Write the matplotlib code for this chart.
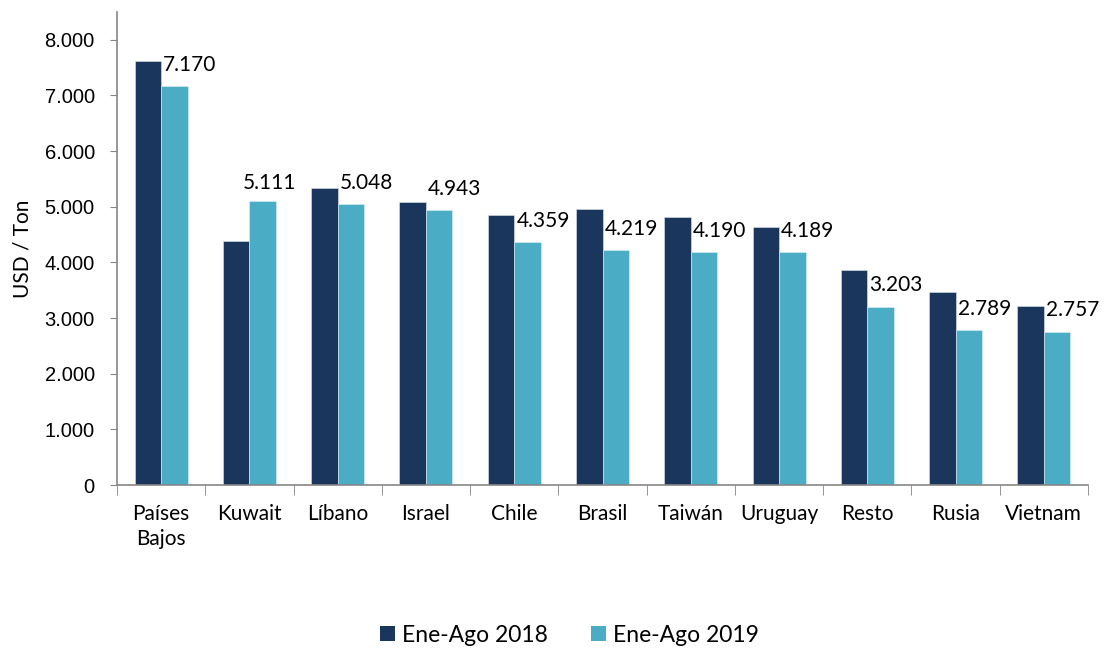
import matplotlib
matplotlib.use("Agg")
import matplotlib.pyplot as plt
import numpy as np
from matplotlib.patches import Patch

categories = ["Países\nBajos", "Kuwait", "Líbano", "Israel", "Chile", "Brasil",
              "Taiwán", "Uruguay", "Resto", "Rusia", "Vietnam"]
values_2018 = [7620, 4380, 5340, 5080, 4860, 4960, 4820, 4630, 3860, 3470, 3220]
values_2019 = [7170, 5111, 5048, 4943, 4359, 4219, 4190, 4189, 3203, 2789, 2757]
labels_2019 = ["7.170", "5.111", "5.048", "4.943", "4.359", "4.219", "4.190",
               "4.189", "3.203", "2.789", "2.757"]
yticks = [0, 1000, 2000, 3000, 4000, 5000, 6000, 7000, 8000]
ytick_labels = ["0", "1.000", "2.000", "3.000", "4.000", "5.000", "6.000",
                "7.000", "8.000"]
series_names = ["Ene-Ago 2018", "Ene-Ago 2019"]

c18 = "#1a365d"
c19 = "#4bacc6"
grey = "#868686"

plt.rcParams["font.family"] = ["Lato", "DejaVu Sans"]

fig = plt.figure(figsize=(11.04, 6.48), dpi=100)
ax = fig.add_axes([0.106, 0.2515, 0.8795, 0.730])

x = np.arange(len(categories))
w = 0.3
ax.bar(x - w / 2, values_2018, width=w, color=c18, edgecolor="#dfe6ee", linewidth=0.4)
ax.bar(x + w / 2, values_2019, width=w, color=c19, edgecolor="#dff0f5", linewidth=0.4)

for i in range(len(categories)):
    if values_2019[i] > values_2018[i]:
        ax.annotate(labels_2019[i], (x[i] + w / 2, values_2019[i]),
                    xytext=(5, 8), textcoords="offset points",
                    ha="center", va="baseline", fontsize=15)
    else:
        ax.annotate(labels_2019[i], (x[i], values_2019[i]),
                    xytext=(1.5, 11), textcoords="offset points",
                    ha="left", va="baseline", fontsize=15)

ax.set_xlim(-0.5, len(categories) - 0.5)
ax.set_ylim(0, 8500)
ax.set_yticks(yticks)
ax.set_yticklabels(ytick_labels, fontsize=14.5, family=["Liberation Sans", "DejaVu Sans"])
ax.set_xticks(x)
ax.set_xticklabels(categories, fontsize=15, linespacing=1.3)
ax.set_xticks(np.arange(-0.5, len(categories), 1.0), minor=True)
ax.tick_params(axis="x", which="major", length=0, pad=14)
ax.tick_params(axis="x", which="minor", length=7, color=grey, direction="out")
ax.tick_params(axis="y", length=5, color=grey, direction="out", pad=11)
ax.set_ylabel("USD / Ton", fontsize=15, labelpad=9)

for s in ["top", "right"]:
    ax.spines[s].set_visible(False)
for s in ["left", "bottom"]:
    ax.spines[s].set_color(grey)
    ax.spines[s].set_linewidth(1.2)

handles = [Patch(facecolor=c18, label=series_names[0]),
           Patch(facecolor=c19, label=series_names[1])]
fig.legend(handles=handles, loc="center", bbox_to_anchor=(0.516, 0.02),
           ncol=2, frameon=False, fontsize=16.5, handlelength=0.65,
           handleheight=0.65, handletextpad=0.3, columnspacing=1.9)

fig.savefig("out.png", dpi=100)
